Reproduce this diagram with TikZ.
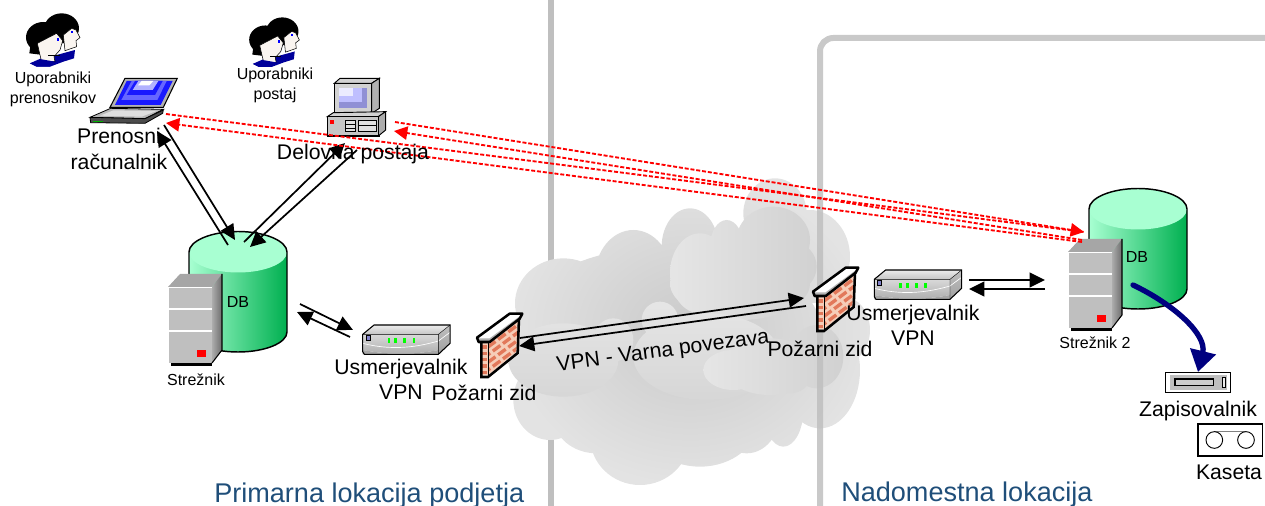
\documentclass[tikz,border=0pt]{standalone}
\usepackage{fontspec}
\setmainfont{Liberation Sans}
\usetikzlibrary{arrows.meta}
\definecolor{barc}{HTML}{BFBFBF}
\definecolor{bluet}{HTML}{1F4E79}
\definecolor{navyc}{HTML}{000080}
\definecolor{cyltop}{HTML}{A8FFD2}
\definecolor{cylend}{HTML}{00B050}
\definecolor{brickc}{HTML}{E2785A}
\definecolor{brickb}{HTML}{F6CDB8}
\newcommand{\fs}[2]{\fontsize{#1}{#2}\selectfont}
\tikzset{
  conn/.style={black,line width=1.3pt,-{Triangle[length=11.5pt,width=11pt]}},
  redconn/.style={red,line width=1.4pt,dash pattern=on 3pt off 1.4pt,-{Triangle[length=10pt,width=10pt,fill=red]}},
  redplain/.style={red,line width=1.4pt,dash pattern=on 3pt off 1.4pt},
  bluearrow/.style={navyc,line width=4pt,line cap=round,-{Triangle[length=16pt,width=19pt]}},
  bar/.style={barc,line width=4.5pt},
  lblS/.style={inner sep=0pt,align=center,font=\fs{12}{15}},
  lblL/.style={inner sep=0pt,align=center,font=\fs{15.9}{19}},
  lblB/.style={inner sep=0pt,anchor=base west,text=bluet,font=\fs{20.3}{24}},
  srvpic/.pic={
    \fill[gray!70] (0,0) -- (12,-13) -- (54,-13) -- (44,0) -- cycle;
    \shade[left color=gray!65,right color=gray!85!black] (44,0) -- (54,-13) -- (54,63) -- (44,76) -- cycle;
    \fill[barc] (0,0) rectangle (44,76);
    \draw[white,line width=.8pt] (0,.5) -- (44,.5) (0,22) -- (44,22) (0,44) -- (44,44) (0,0) -- (0,76);
    \fill[black] (3,76) rectangle (44,79);
    \draw[black,line width=.8pt] (54,-13) -- (54,63) -- (44,76);
    \fill[red] (29,63) rectangle (38,70);
  },
  cylpic/.pic={
    \shade[left color=cyltop,right color=cylend] (-49,0) -- (-49,80) .. controls (-49,91) and (-27,100) .. (0,100) .. controls (27,100) and (49,91) .. (49,80) -- (49,0) -- cycle;
    \fill[cyltop] (0,0) ellipse [x radius=49,y radius=20.5];
    \draw[black,line width=1.1pt] (-49,80) -- (-49,0) .. controls (-49,-11) and (-27,-20.5) .. (0,-20.5) .. controls (27,-20.5) and (49,-11) .. (49,0) -- (49,80) .. controls (49,91) and (27,100) .. (0,100) .. controls (-27,100) and (-49,91) .. (-49,80);
  },
  rtrpic/.pic={
    \shade[top color=gray!15,bottom color=gray!45] (0,28) -- (34,0) -- (262,0) -- (227,28) -- cycle;
    \shade[top color=gray!50,bottom color=gray!75] (227,28) -- (262,0) -- (262,55) -- (227,88) -- cycle;
    \shade[top color=gray!30,bottom color=gray!65] (0,28) -- (227,28) -- (227,75) .. controls (150,90) and (80,90) .. (0,75) -- cycle;
    \fill[gray!70] (0,75) .. controls (80,90) and (150,90) .. (227,75) -- (227,88) -- (0,88) -- cycle;
    \draw[white,line width=.5pt] (0,55) .. controls (80,75) and (150,70) .. (227,48) -- (262,22);
    \draw[black,line width=.8pt] (0,28) -- (34,0) -- (262,0) -- (262,55) -- (227,88) -- (5,88) -- (0,80) -- cycle;
    \draw[black,line width=.3pt] (0,28) -- (227,28) -- (262,0) (227,28) -- (227,88);
    \fill[blue!40!gray!70,draw=black,line width=.3pt] (9,32) rectangle (22,45);
    \foreach \lx in {75,95,122,150} \fill[green] (\lx,39) rectangle (\lx+8,55);
  },
  fwpic/.pic={
    \fill[brickb] (13,84) -- (123,17) -- (118,117) -- (33,187) -- (13,187) -- cycle;
    \begin{scope}
      \clip (33,84) -- (123,17) -- (118,117) -- (33,187) -- cycle;
      \foreach \r/\ph in {0/0,1/5,2/0,3/5,4/0,5/5,6/0,7/5}
        \draw[brickc,line width=2.5pt,dash pattern=on 7pt off 2.5pt,dash phase=\ph pt] (33,102+\r*23) -- (130,30+\r*23);
    \end{scope}
    \foreach \r in {0,1,2,3,4}
      \draw[brickc,line width=2.6pt] (15,102+\r*19) -- (31,102+\r*19);
    \draw[black,line width=1.9pt] (13,87) -- (13,192) -- (33,192) -- (122,120) -- (126,17);
    \draw[black,line width=.6pt] (33,87) -- (33,190);
    \fill[white] (0,74) -- (98,2) -- (136,2) -- (128,17) -- (38,87) -- (5,87) -- cycle;
    \fill[gray!60] (0,76) -- (38,76) -- (136,4) -- (128,17) -- (38,87) -- (5,87) -- cycle;
    \draw[black,line width=1.9pt,line join=round] (0,74) -- (98,2) -- (136,2) -- (128,17) -- (38,87) -- (5,87) -- cycle;
  },
  pplpic/.pic={
    \fill[navyc!80!blue] (90,190) -- (130,172) -- (170,165) -- (225,150) -- (222,175) -- (190,185) -- (150,200) -- (110,200) -- cycle;
    \fill[black] (185,85) ellipse [x radius=52,y radius=45];
    \fill[white!92!brown,draw=black,line width=.4pt] (190,105) -- (215,85) -- (228,90) -- (240,113) -- (228,122) -- (230,140) -- (195,152) -- cycle;
    \fill[black] (130,112) ellipse [x radius=52,y radius=46];
    \fill[black] (95,110) -- (88,160) -- (130,165) -- (140,110) -- cycle;
    \fill[white!92!brown,draw=black,line width=.4pt] (112,130) -- (170,100) -- (188,122) -- (180,150) -- (162,170) -- (165,185) -- (125,185) -- (120,165) -- cycle;
    \fill[navyc!80!blue] (90,190) -- (125,178) -- (165,185) -- (150,200) -- (110,200) -- cycle;
    \fill[black] (145,165) rectangle (180,169);
    \fill[blue] (170,114) rectangle (178,122);
    \fill[blue] (212,93) rectangle (219,100);
  }
}
\begin{document}
\begin{tikzpicture}[x=.75pt,y=-.75pt]
\useasboundingbox (0,0) rectangle (1265,506);
\clip (0,0) rectangle (1265,506);
% partition bars and cloud
\draw[bar] (551,-5) -- (551,510);
\begin{scope}[shift={(500,170)},scale=1/3]
  \shade[inner color=gray!42,outer color=gray!22]
    (190,400) ellipse [x radius=145,y radius=135]
    (400,320) ellipse [x radius=115,y radius=140]
    (570,230) ellipse [x radius=85,y radius=115]
    (825,130) ellipse [x radius=95,y radius=105]
    (930,260) ellipse [x radius=120,y radius=140]
    (960,600) ellipse [x radius=120,y radius=175]
    (1030,480) ellipse [x radius=80,y radius=100]
    (150,690) ellipse [x radius=110,y radius=120]
    (290,740) ellipse [x radius=130,y radius=110]
    (420,800) ellipse [x radius=150,y radius=145]
    (600,750) ellipse [x radius=175,y radius=140]
    (740,730) ellipse [x radius=100,y radius=120]
    (850,720) ellipse [x radius=60,y radius=110]
    (500,500) ellipse [x radius=470,y radius=270];
  \shade[left color=gray!20,right color=gray!36]
    (600,310) ellipse [x radius=90,y radius=120]
    (680,230) ellipse [x radius=50,y radius=80]
    (820,210) ellipse [x radius=110,y radius=100]
    (885,290) ellipse [x radius=65,y radius=70]
    (720,340) ellipse [x radius=210,y radius=110];
  \shade[top color=gray!20,bottom color=gray!32]
    (190,570) ellipse [x radius=165,y radius=110]
    (340,510) ellipse [x radius=60,y radius=65]
    (480,450) ellipse [x radius=55,y radius=55]
    (620,560) ellipse [x radius=220,y radius=130];
  \shade[left color=gray!20,right color=gray!36]
    (700,600) ellipse [x radius=90,y radius=60]
    (810,590) ellipse [x radius=140,y radius=85]
    (950,560) ellipse [x radius=80,y radius=95]
    (870,620) ellipse [x radius=60,y radius=50];
\end{scope}
\draw[bar,opacity=.85,rounded corners=10pt] (820,510) -- (820,38) -- (1270,38);
% databases and servers
\pic at (238,252) {cylpic};
\pic at (1138,209) {cylpic};
\pic at (168,287) {srvpic};
\pic at (1068,252) {srvpic};
% people
\pic[scale=1/3] at (0,0) {pplpic};
\pic[scale=.31] at (225,5) {pplpic};
% laptop
\begin{scope}[scale=1/3]
  \fill[gray!60,draw=black,line width=.8pt] (375,235) -- (532,235) -- (490,322) -- (330,322) -- cycle;
  \fill[blue!90] (380,243) -- (518,243) -- (482,315) -- (345,315) -- cycle;
  \fill[blue!60] (395,243) -- (500,243) -- (472,300) -- (364,300) -- cycle;
  \fill[blue!90] (405,243) -- (488,243) -- (465,285) -- (380,285) -- cycle;
  \fill[blue!30] (415,243) -- (475,243) -- (458,270) -- (398,270) -- cycle;
  \fill[white] (425,243) -- (460,243) -- (448,256) -- (414,256) -- cycle;
  \fill[gray!55,draw=black,line width=.6pt] (270,352) -- (332,325) -- (490,328) -- (435,356) -- cycle;
  \fill[gray!25] (300,347) -- (340,331) -- (470,333) -- (425,350) -- cycle;
  \fill[gray!60!black,draw=black,line width=.6pt] (270,352) -- (435,356) -- (490,330) -- (488,340) -- (435,370) -- (272,368) -- cycle;
  \fill[green!70!black] (280,362) rectangle (310,365);
\end{scope}
% workstation
\begin{scope}[scale=1/3]
  \fill[gray!35,draw=black,line width=.7pt] (1003,250) -- (1020,235) -- (1138,235) -- (1115,250) -- cycle;
  \fill[gray!60,draw=black,line width=.7pt] (1115,250) -- (1138,235) -- (1138,325) -- (1115,340) -- cycle;
  \fill[gray!35,draw=black,line width=.7pt] (1003,250) rectangle (1115,340);
  \fill[blue!45!gray!60] (1018,265) rectangle (1100,325);
  \fill[blue!25] (1018,265) rectangle (1085,305);
  \fill[blue!8] (1018,265) rectangle (1060,288);
  \fill[gray!35,draw=black,line width=.7pt] (982,350) -- (1000,338) -- (1157,335) -- (1135,350) -- cycle;
  \fill[gray!65,draw=black,line width=.7pt] (1135,350) -- (1157,335) -- (1157,390) -- (1135,408) -- cycle;
  \fill[gray!45,draw=black,line width=.7pt] (982,350) rectangle (1135,405);
  \fill[red] (990,360) rectangle (1003,372);
  \draw[black,line width=.4pt,fill=gray!25] (1035,360) rectangle (1065,395) (1075,360) rectangle (1130,395);
  \draw[black,line width=.4pt] (1035,372) -- (1065,372) (1035,384) -- (1065,384) (1075,375) -- (1130,375);
  \fill[black] (982,405) rectangle (1140,410);
\end{scope}
% routers and firewalls
\pic[scale=1/3] at (362.7,325) {rtrpic};
\pic[scale=1/3] at (874.3,270) {rtrpic};
\pic[scale=1/3] at (477,313) {fwpic};
\pic[scale=1/3] at (813,267) {fwpic};
% tape drive and cassette
\begin{scope}[shift={(780,180)},scale=1/3]
  \fill[white,draw=black,line width=1.2pt] (1157,577) rectangle (1352,637);
  \fill[barc] (1170,585) rectangle (1340,630);
  \draw[black,line width=.8pt,fill=gray!40] (1185,597) rectangle (1300,617);
  \draw[black,line width=.6pt,fill=gray!15] (1327,592) rectangle (1337,622);
  \draw[black,line width=1.2pt] (1254,732) rectangle (1447,828);
  \draw[gray,line width=.7pt] (1303,755) -- (1398,755);
  \draw[black,line width=.7pt] (1303,780) circle [radius=25] (1398,780) circle [radius=25];
\end{scope}
% connector ends
\coordinate (lapA) at (164,125); \coordinate (dbA) at (235,240);
\coordinate (lapB) at (157,131); \coordinate (dbB) at (228,245);
\coordinate (pcA) at (345,143);  \coordinate (dbC) at (244,242);
\coordinate (pcB) at (357,150);  \coordinate (dbD) at (250,247);
\coordinate (dbE) at (300,304);  \coordinate (rtA) at (353,330);
\coordinate (rtB) at (350,337);  \coordinate (dbF) at (297,312);
\coordinate (fwA) at (520,338);  \coordinate (fwB) at (804,298);
\coordinate (fwC) at (806,306);  \coordinate (fwD) at (519,346);
\coordinate (rtC) at (969,280);  \coordinate (srA) at (1045,280);
\coordinate (srB) at (1045,289); \coordinate (rtD) at (969,289);
\coordinate (lapR) at (166,114); \coordinate (lapS) at (166,123);
\coordinate (pcR) at (395,122);  \coordinate (pcS) at (394,131);
\coordinate (srvT) at (1084,232);\coordinate (srvU) at (1082,242);
\coordinate (srvV) at (1082,240);
\coordinate (tapeS) at (1133,285); \coordinate (tapeE) at (1198,372);
% connectors
\draw[conn] (lapA) -- (dbA);
\draw[conn] (dbB) -- (lapB);
\draw[conn] (dbC) -- (pcA);
\draw[conn] (pcB) -- (dbD);
\draw[conn] (dbE) -- (rtA);
\draw[conn] (rtB) -- (dbF);
\draw[conn] (fwA) -- (fwB);
\draw[conn] (fwC) -- (fwD);
\draw[conn] (rtC) -- (srA);
\draw[conn] (srB) -- (rtD);
\draw[redplain] (lapR) -- (srvT);
\draw[redconn] (srvU) -- (lapS);
\draw[redconn] (pcR) -- (srvT);
\draw[redconn] (srvV) -- (pcS);
\draw[bluearrow] (tapeS) .. controls (1175,305) and (1207,335) .. (tapeE);
% labels
\node[lblS] (upr) at (53,89) {Uporabniki\\prenosnikov};
\node[lblS] (ups) at (275,85) {Uporabniki\\postaj};
\node[lblL] (prc) at (119,149) {Prenosni\\računalnik};
\node[lblL,anchor=base] (del) at (353,160) {Delovna postaja};
\node[lblS,anchor=base] (st1) at (196,385) {Strežnik};
\node[lblS,anchor=base] (st2) at (1095,349) {Strežnik 2};
\node[lblS,anchor=base] (db1) at (238,307) {DB};
\node[lblS,anchor=base] (db2) at (1137,263) {DB};
\node[lblL] (us1) at (401,379) {Usmerjevalnik\\VPN};
\node[lblL] (us2) at (913,325) {Usmerjevalnik\\VPN};
\node[lblL,anchor=base] (pz1) at (484,400) {Požarni zid};
\node[lblL,anchor=base] (pz2) at (820,356) {Požarni zid};
\node[lblL,rotate=7.5] (vpn) at (663,352) {VPN - Varna povezava};
\node[lblL,anchor=base] (zap) at (1198,416) {Zapisovalnik};
\node[lblL,anchor=base] (kas) at (1229,479) {Kaseta};
\node[lblB] (prm) at (214,502) {Primarna lokacija podjetja};
\node[lblB] (nad) at (841,501) {Nadomestna lokacija};
\end{tikzpicture}
\end{document}
